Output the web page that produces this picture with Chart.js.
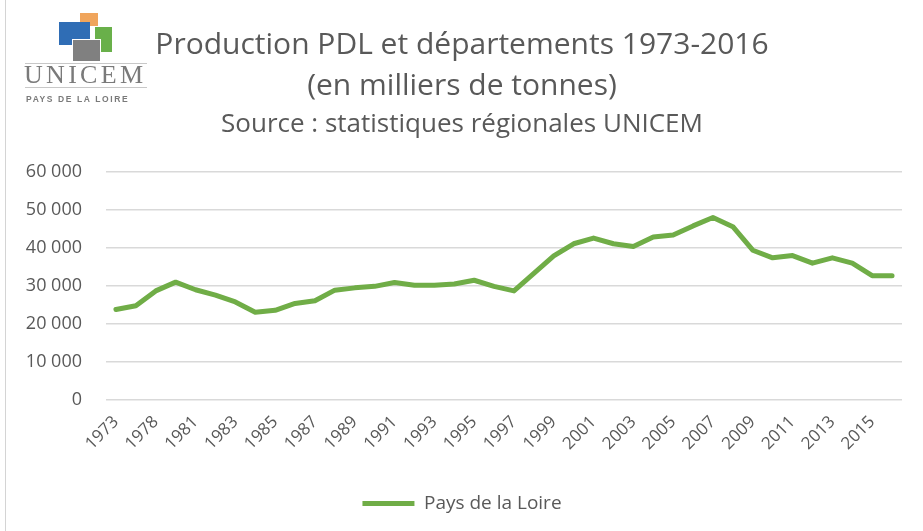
<!DOCTYPE html>
<html lang="fr">
<head>
<meta charset="utf-8">
<title>Production PDL 1973-2016</title>
<script src="https://cdn.jsdelivr.net/npm/chart.js@4/dist/chart.umd.min.js"></script>
<style>
    html, body { margin: 0; padding: 0; background: #fff; }
    #wrap { position: relative; width: 923px; height: 531px; overflow: hidden; }
    #wrap::before {
        content: ''; position: absolute; left: 5px; top: 0; bottom: 0;
        border-left: 1px solid #d4d4d4;
    }
    #chart { position: absolute; left: 0; top: 0; }

    /* UNICEM logo, top left */
    .logo { position: absolute; left: 0; top: 0; width: 160px; height: 110px; }
    .sq { position: absolute; }
    .sq.orange { left: 80px; top: 13px; width: 18px; height: 13px; background: #f0a55c; }
    .sq.blue { left: 59px; top: 22px; width: 31px; height: 23px; background: #2f6db5; }
    .sq.green { left: 95px; top: 27px; width: 17px; height: 25px; background: #69b04a; }
    .sq.gray { left: 72px; top: 39px; width: 27px; height: 21px; background: #808080; border: 1.5px solid #fff; }
    .rule { position: absolute; left: 25px; width: 122px; border-top: 1px solid #c8c8c8; }
    .logo .name {
        position: absolute; left: 24px; top: 60px;
        font-family: 'Liberation Serif', 'DejaVu Serif', serif;
        font-size: 26px; letter-spacing: 3.3px; color: #7a7a7a;
    }
    .logo .region {
        position: absolute; left: 26px; top: 94px;
        font-family: 'Liberation Sans', Arial, sans-serif; font-weight: bold;
        font-size: 8.5px; letter-spacing: 1.6px; color: #7a7a7a; white-space: nowrap;
    }
</style>
</head>
<body>
<div id="wrap">
    <canvas id="chart" width="923" height="531"></canvas>
    <div class="logo">
        <div class="sq orange"></div>
        <div class="sq blue"></div>
        <div class="sq green"></div>
        <div class="sq gray"></div>
        <div class="rule" style="top:63px"></div>
        <div class="name">UNICEM</div>
        <div class="rule" style="top:87px"></div>
        <div class="region">PAYS DE LA LOIRE</div>
    </div>
</div>
<script>
// Years on the x axis (1974-1977 and 1979 are not in the series)
const years = [
    '1973', '1975', '1978', '1980', '1981', '1982', '1983', '1984', '1985', '1986',
    '1987', '1988', '1989', '1990', '1991', '1992', '1993', '1994', '1995', '1996',
    '1997', '1998', '1999', '2000', '2001', '2002', '2003', '2004', '2005', '2006',
    '2007', '2008', '2009', '2010', '2011', '2012', '2013', '2014', '2015', '2016'
];

// Production Pays de la Loire, thousands of tonnes
const paysDeLaLoire = [
    23800, 24800, 28700, 31000, 29000, 27600, 25800, 23100, 23600, 25400,
    26100, 28900, 29500, 29900, 30900, 30200, 30200, 30500, 31500, 29900,
    28700, 33300, 37900, 41100, 42600, 41100, 40400, 42900, 43400, 45800,
    48000, 45600, 39400, 37400, 38000, 36000, 37400, 36000, 32700, 32700
];

const yTicks = [0, 10000, 20000, 30000, 40000, 50000, 60000];

const titleLines = ['Production PDL et départements 1973-2016', '(en milliers de tonnes)'];
const subtitleText = 'Source : statistiques régionales UNICEM';
const seriesLabel = 'Pays de la Loire';

const green = '#70AD47';
const textGray = '#595959';
const fontFamily = "'Open Sans', 'Noto Sans', sans-serif";

// thousands separator as in the French locale
function formatThousands(v) {
    return String(v).replace(/\B(?=(\d{3})+(?!\d))/g, ' ');
}

const ctx = document.getElementById('chart').getContext('2d');
new Chart(ctx, {
    type: 'line',
    data: {
        labels: years,
        datasets: [{
            label: seriesLabel,
            data: paysDeLaLoire,
            borderColor: green,
            backgroundColor: green,
            borderWidth: 5,
            borderCapStyle: 'round',
            borderJoinStyle: 'round',
            pointRadius: 0,
            tension: 0
        }]
    },
    options: {
        responsive: false,
        animation: false,
        // y labels are clipped to the scale box, so the left padding stays small
        layout: { padding: { left: 22, right: 21, top: 0, bottom: 8 } },
        plugins: {
            title: {
                display: true,
                text: titleLines,
                color: textGray,
                font: { family: fontFamily, size: 30, weight: 'normal', lineHeight: 1.367 },
                padding: { top: 24.5, bottom: 0 }
            },
            subtitle: {
                display: true,
                text: subtitleText,
                color: textGray,
                font: { family: fontFamily, size: 26, weight: 'normal', lineHeight: 1.15 },
                padding: { top: 3.5, bottom: 32 }
            },
            legend: {
                position: 'bottom',
                labels: {
                    usePointStyle: true,
                    pointStyle: 'line',
                    pointStyleWidth: 52,
                    color: textGray,
                    padding: 10,
                    font: { family: fontFamily, size: 19 }
                }
            },
            tooltip: { enabled: false }
        },
        scales: {
            x: {
                offset: true,
                grid: { display: false },
                border: { display: false },
                ticks: {
                    autoSkip: false,
                    minRotation: 45,
                    maxRotation: 45,
                    padding: 4,
                    color: textGray,
                    font: { family: fontFamily, size: 17 },
                    callback: (val, i) => (i % 2 === 0 ? years[i] : '')
                },
                afterFit: scale => { scale.height = 84; }
            },
            y: {
                min: yTicks[0],
                max: yTicks[yTicks.length - 1],
                grid: { color: '#d9d9d9', lineWidth: 1.5, drawTicks: false },
                border: { display: false },
                afterBuildTicks: scale => {
                    scale.ticks = yTicks.map(v => ({ value: v }));
                },
                ticks: {
                    padding: 24,
                    color: textGray,
                    font: { family: fontFamily, size: 18 },
                    callback: v => formatThousands(v)
                },
                afterFit: scale => { scale.width = 84; }
            }
        }
    }
});
</script>
</body>
</html>
